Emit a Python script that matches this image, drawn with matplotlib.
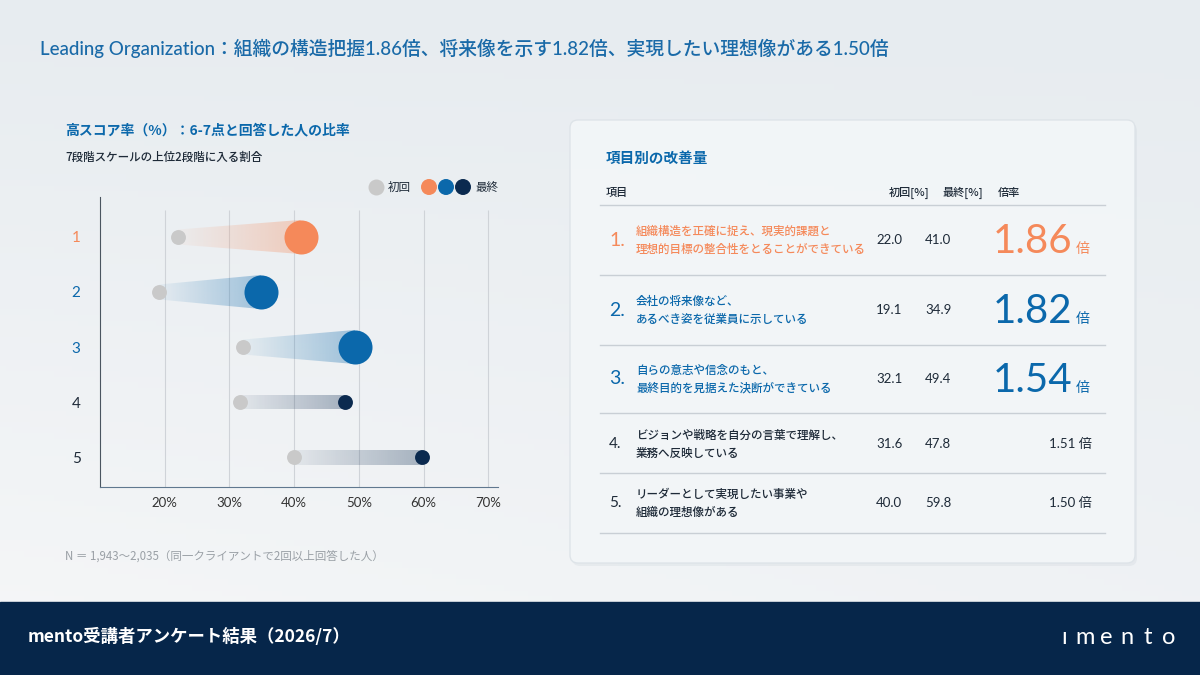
import numpy as np
import matplotlib.pyplot as plt
from matplotlib.patches import Polygon, FancyBboxPatch, Rectangle
from matplotlib.colors import to_rgb

plt.rcParams['font.family'] = ['Noto Sans CJK JP', 'DejaVu Sans']
LAT = ['Lato', 'Noto Sans CJK JP']

# data
rows = [1, 2, 3, 4, 5]
first = [22.0, 19.1, 32.1, 31.6, 40.0]
last = [41.0, 34.9, 49.4, 47.8, 59.8]
ratio = [1.86, 1.82, 1.54, 1.51, 1.50]
items = [
    ("組織構造を正確に捉え、現実的課題と", "理想的目標の整合性をとることができている"),
    ("会社の将来像など、", "あるべき姿を従業員に示している"),
    ("自らの意志や信念のもと、", "最終目的を見据えた決断ができている"),
    ("ビジョンや戦略を自分の言葉で理解し、", "業務へ反映している"),
    ("リーダーとして実現したい事業や", "組織の理想像がある"),
]
xticks = [20, 30, 40, 50, 60, 70]

ORANGE = '#f5895a'
BLUE = '#0b68ab'
NAVY = '#0b2a4f'
GREY = '#c9c9c9'
DARK = '#1e2a38'
row_colors = [ORANGE, BLUE, BLUE, NAVY, NAVY]
label_colors = [ORANGE, BLUE, BLUE, DARK, DARK]
big = [True, True, True, False, False]

fig = plt.figure(figsize=(12, 6.75), dpi=100)

# background in pixel coords
bg = fig.add_axes([0, 0, 1, 1])
bg.set_xlim(0, 1200)
bg.set_ylim(675, 0)
bg.axis('off')
gx, gy = np.meshgrid(np.linspace(0, 1, 200), np.linspace(0, 1, 120))
top = np.array(to_rgb('#e7ecf0'))
low = np.array(to_rgb('#f6f7f8'))
t = np.clip(0.6 * gy + 0.4 * (1 - gx) * gy, 0, 1)[..., None]
bg.imshow(top * (1 - t) + low * t, extent=[0, 1200, 675, 0], aspect='auto', zorder=0)

bg.add_patch(Rectangle((0, 602), 1200, 73, color='#06264a', zorder=1))
bg.text(28, 637, 'mento受講者アンケート結果（2026/7）', color='white', fontsize=12.5,
        fontweight='bold', va='center', zorder=2)
for k, ch in enumerate('ımento'):
    bg.text(1064 + k * 21, 637, ch, color='white', fontsize=17, family=LAT,
            va='center', ha='center', zorder=2)

bg.text(40, 48, 'Leading Organization：組織の構造把握1.86倍、将来像を示す1.82倍、実現したい理想像がある1.50倍',
        color='#1a6aa8', fontsize=13.5, family=LAT, fontweight='medium', va='center')

# left chart texts
bg.text(65, 130, '高スコア率（%）：6-7点と回答した人の比率', color=BLUE, fontsize=10,
        fontweight='bold', va='center')
bg.text(65, 157, '7段階スケールの上位2段階に入る割合', color=DARK, fontsize=8.3,
        fontweight='medium', va='center')
bg.scatter([376], [187], s=110, color=GREY, zorder=3)
bg.text(388, 187, '初回', color=DARK, fontsize=8.3, va='center')
bg.scatter([429, 446, 463], [187, 187, 187], s=110, color=[ORANGE, BLUE, NAVY], zorder=3)
bg.text(475, 187, '最終', color=DARK, fontsize=8.3, va='center')
bg.text(65, 556, 'N ＝ 1,943〜2,035（同一クライアントで2回以上回答した人）', color='#9aa0a6',
        fontsize=8.3, va='center')

# right panel
bg.add_patch(FancyBboxPatch((572, 123), 565, 443, boxstyle='round,pad=0,rounding_size=8',
                            facecolor='#c8d0d8', edgecolor='none', alpha=0.25, zorder=1))
bg.add_patch(FancyBboxPatch((570, 120), 565, 443, boxstyle='round,pad=0,rounding_size=8',
                            facecolor='#f3f6f8', edgecolor='#dde3e8', lw=1, alpha=0.95, zorder=1))
bg.text(606, 158, '項目別の改善量', color=BLUE, fontsize=10.5, fontweight='bold', va='center', zorder=3)
for x, s in zip([606, 889, 942, 998], ['項目', '初回[%]', '最終[%]', '倍率']):
    bg.text(x, 193, s, color=DARK, fontsize=8, fontweight='medium', va='center', zorder=3)
for yl in [205, 275, 345, 413, 473, 533]:
    bg.plot([600, 1105], [yl, yl], color='#c9cfd5', lw=1, zorder=2)

row_y = [240, 310, 379, 444, 503]
for i in range(5):
    y = row_y[i]
    c = label_colors[i]
    bg.text(609, y, f'{rows[i]}.', color=c, fontsize=14 if big[i] else 11, family=LAT,
            va='center', zorder=3)
    bg.text(636, y - 9, items[i][0], color=c, fontsize=8.3, fontweight='medium', va='center', zorder=3)
    bg.text(636, y + 9, items[i][1], color=c, fontsize=8.3, fontweight='medium', va='center', zorder=3)
    bg.text(876, y, f'{first[i]:.1f}', color=DARK, fontsize=9.5, family=LAT, va='center', zorder=3)
    bg.text(925, y, f'{last[i]:.1f}', color=DARK, fontsize=9.5, family=LAT, va='center', zorder=3)
    if big[i]:
        bg.text(1072, y + 13, f'{ratio[i]:.2f}', color=c, fontsize=29, family=LAT,
                ha='right', va='baseline', zorder=3)
        bg.text(1076, y + 13, '倍', color=c, fontsize=10, ha='left', va='baseline', zorder=3)
    else:
        bg.text(1092, y, f'{ratio[i]:.2f} 倍', color=DARK, fontsize=9.5, family=LAT,
                ha='right', va='center', zorder=3)

# dumbbell chart
ax = fig.add_axes([100 / 1200, 1 - 487 / 675, 398 / 1200, 290 / 675])
ax.patch.set_alpha(0)
ax.set_xlim(10, 71.5)
ax.set_ylim(5.545, 0.273)
ax.vlines(xticks, 0.51, 5.545, color='#cfd3d8', lw=0.8, zorder=0)

r_small = 0.136
for i in range(5):
    y = rows[i]
    x0, x1 = first[i], last[i]
    r1 = 0.31 if big[i] else r_small
    poly = Polygon([(x0, y - r_small), (x1, y - r1), (x1, y + r1), (x0, y + r_small)],
                   closed=True, facecolor='none', edgecolor='none')
    ax.add_patch(poly)
    grad = np.zeros((1, 100, 4))
    grad[..., :3] = to_rgb(row_colors[i])
    if big[i]:
        grad[..., 3] = np.linspace(0.04, 0.35, 100)
    else:
        grad[..., 3] = np.linspace(0.06, 0.32, 100)
    im = ax.imshow(grad, extent=[x0, x1, y + r1, y - r1], aspect='auto', zorder=1,
                   interpolation='bilinear')
    im.set_clip_path(poly)
    ax.scatter([x0], [y], s=115, color=GREY, zorder=3, linewidths=0)
    ax.scatter([x1], [y], s=600 if big[i] else 115, color=row_colors[i], zorder=3, linewidths=0)

ax.set_xlim(10, 71.5)
ax.set_ylim(5.545, 0.273)
ax.set_yticks(rows)
ax.set_yticklabels([str(r) for r in rows], family=LAT, fontsize=11)
for lab, c in zip(ax.get_yticklabels(), label_colors):
    lab.set_color(c)
ax.set_xticks(xticks)
ax.set_xticklabels([f'{v}%' for v in xticks], family=LAT, fontsize=9.5, color='#333333')
ax.tick_params(axis='both', length=0)
ax.tick_params(axis='y', pad=14)
ax.tick_params(axis='x', pad=7)
ax.spines['top'].set_visible(False)
ax.spines['right'].set_visible(False)
ax.spines['left'].set_color('#4a5560')
ax.spines['bottom'].set_color('#60788f')

fig.savefig('out.png', dpi=100)
